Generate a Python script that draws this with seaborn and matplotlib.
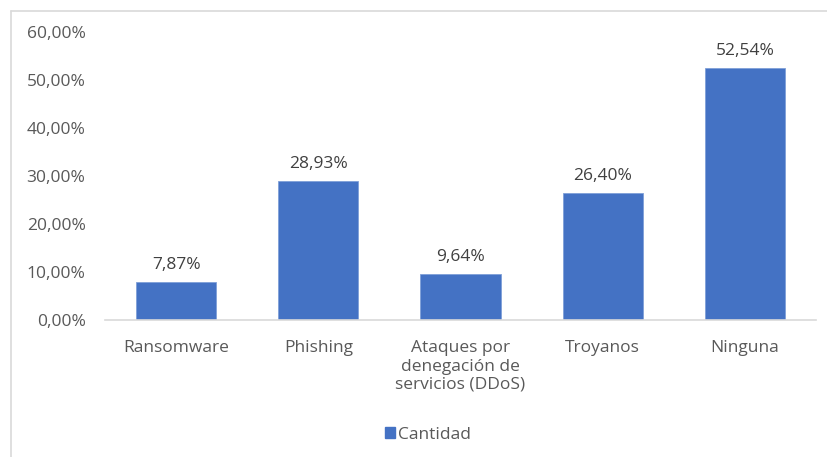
import matplotlib
matplotlib.use("Agg")
import matplotlib.pyplot as plt
import seaborn as sns
import pandas as pd
from matplotlib.lines import Line2D
from matplotlib.patches import Patch
from matplotlib.ticker import FuncFormatter

categories = ["Ransomware", "Phishing", "Ataques por\ndenegación de\nservicios (DDoS)", "Troyanos", "Ninguna"]
values = [7.87, 28.93, 9.64, 26.40, 52.54]
series_name = "Cantidad"
yticks = [0, 10, 20, 30, 40, 50, 60]

sns.set_theme(style="white")
plt.rcParams['font.family'] = ['Open Sans', 'DejaVu Sans']

W, H = 828, 457
FS = 12.5
fig = plt.figure(figsize=(W / 100, H / 100), dpi=100)
ax = fig.add_axes([105 / W, 1 - 320 / H, (816 - 105) / W, (320 - 32) / H])

df = pd.DataFrame({"cat": categories, "val": values})
bar_color = "#4472C4"
sns.barplot(data=df, x="cat", y="val", color=bar_color, width=0.563, ax=ax,
            saturation=1, edgecolor="#7fa0d8", linewidth=0.6)

ax.set_ylim(0, 60)
ax.set_xlim(-0.5, len(categories) - 0.5)
ax.set_yticks(yticks)
ax.yaxis.set_major_formatter(FuncFormatter(lambda v, p: f"{v:.2f}%".replace(".", ",")))
ax.set_xlabel("")
ax.set_ylabel("")

text_color = "#595959"
ax.tick_params(axis="y", length=0, pad=14, labelsize=FS, labelcolor=text_color)
ax.tick_params(axis="x", length=0, pad=14.5, labelsize=FS, labelcolor=text_color)
for lbl in ax.get_xticklabels():
    lbl.set_linespacing(1.2)

for s in ["top", "right", "left"]:
    ax.spines[s].set_visible(False)
ax.spines["bottom"].set_color("#d9d9d9")
ax.spines["bottom"].set_linewidth(1.2)

for i, v in enumerate(values):
    ax.annotate(f"{v:.2f}%".replace(".", ","), (i, v), xytext=(0, 6.5),
                textcoords="offset points", ha="center", va="bottom",
                fontsize=FS, color="#404040")

handles = [Patch(facecolor=bar_color, edgecolor=bar_color, label=series_name)]
fig.legend(handles=handles, loc="center", bbox_to_anchor=(428 / W, 1 - 435 / H),
           frameon=False, fontsize=FS, handlelength=0.6, handleheight=0.6,
           handletextpad=0.15, labelcolor=text_color)

# chart outer border (top and left visible)
fig.add_artist(Line2D([11 / W, 1.0], [1 - 11 / H, 1 - 11 / H], transform=fig.transFigure,
                      color="#d9d9d9", linewidth=1.2))
fig.add_artist(Line2D([11 / W, 11 / W], [0.0, 1 - 11 / H], transform=fig.transFigure,
                      color="#d9d9d9", linewidth=1.2))

fig.savefig("out.png", dpi=100)
